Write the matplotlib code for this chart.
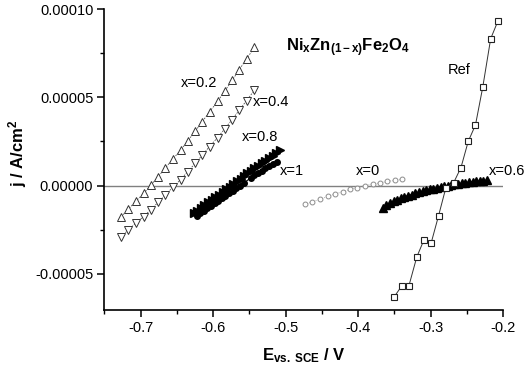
import matplotlib
matplotlib.use('Agg')
import matplotlib.pyplot as plt
import numpy as np
from matplotlib.ticker import MultipleLocator, FormatStrFormatter

plt.rcParams['font.family'] = ['Liberation Sans', 'DejaVu Sans']
plt.rcParams['mathtext.fontset'] = 'custom'
plt.rcParams['mathtext.rm'] = 'Liberation Sans'
plt.rcParams['mathtext.bf'] = 'Liberation Sans:bold'
plt.rcParams['mathtext.it'] = 'Liberation Sans:italic'

# current densities typed in units of 1e-5 A/cm2
E_02 = [-0.727, -0.717, -0.707, -0.696, -0.686, -0.676, -0.666, -0.656, -0.645, -0.635,
        -0.625, -0.615, -0.605, -0.594, -0.584, -0.574, -0.564, -0.554, -0.543]
j_02 = [-1.77, -1.34, -0.90, -0.45, 0.02, 0.50, 0.99, 1.49, 2.00, 2.53,
        3.07, 3.62, 4.18, 4.76, 5.35, 5.95, 6.56, 7.18, 7.82]
E_04 = E_02
j_04 = [-2.90, -2.51, -2.14, -1.76, -1.36, -0.95, -0.54, -0.11, 0.33, 0.79,
        1.25, 1.72, 2.21, 2.71, 3.21, 3.73, 4.27, 4.81, 5.40]
E_08 = [-0.627, -0.622, -0.617, -0.612, -0.607, -0.602, -0.597, -0.592, -0.587,
        -0.582, -0.577, -0.572, -0.567, -0.562, -0.558, -0.553, -0.548, -0.543,
        -0.538, -0.533, -0.528, -0.523, -0.518, -0.513, -0.508]
j_08 = [-1.58, -1.42, -1.26, -1.11, -0.96, -0.81, -0.66, -0.51, -0.36, -0.21,
        -0.06, 0.09, 0.24, 0.39, 0.54, 0.69, 0.84, 0.98, 1.12, 1.26,
        1.40, 1.55, 1.70, 1.85, 2.00]
E_1 = [-0.623, -0.618, -0.613, -0.608, -0.603, -0.598, -0.593, -0.588, -0.583,
       -0.578, -0.573, -0.568, -0.563, -0.558, -0.548, -0.543, -0.538, -0.533,
       -0.528, -0.523, -0.518, -0.512]
j_1 = [-1.70, -1.56, -1.42, -1.28, -1.14, -1.00, -0.86, -0.72, -0.58, -0.44,
       -0.30, -0.16, -0.02, 0.12, 0.45, 0.58, 0.71, 0.84, 0.97, 1.10, 1.23, 1.36]
E_0 = [-0.473, -0.463, -0.452, -0.442, -0.432, -0.421, -0.411, -0.401, -0.390,
       -0.380, -0.370, -0.360, -0.349, -0.339]
j_0 = [-1.06, -0.92, -0.77, -0.62, -0.48, -0.35, -0.21, -0.12, 0.0, 0.08,
       0.15, 0.23, 0.29, 0.35]
E_06 = [-0.366, -0.361, -0.356, -0.351, -0.346, -0.341, -0.336, -0.331, -0.326,
        -0.321, -0.316, -0.311, -0.306, -0.301, -0.296, -0.291, -0.286, -0.281,
        -0.276, -0.272, -0.267, -0.262, -0.257, -0.252, -0.247, -0.242, -0.237,
        -0.232, -0.227, -0.222]
j_06 = [-1.25, -1.12, -1.00, -0.89, -0.80, -0.72, -0.64, -0.57, -0.51, -0.45,
        -0.39, -0.33, -0.27, -0.22, -0.17, -0.12, -0.08, -0.04, 0.00, 0.04,
        0.07, 0.10, 0.13, 0.16, 0.19, 0.22, 0.24, 0.26, 0.28, 0.30]
E_ref = [-0.350, -0.340, -0.330, -0.319, -0.309, -0.299, -0.289, -0.279, -0.268,
         -0.258, -0.248, -0.238, -0.228, -0.217, -0.207]
j_ref = [-6.30, -5.70, -5.70, -4.05, -3.07, -3.23, -1.72, -0.15, 0.17, 1.02,
         2.50, 3.43, 5.56, 8.32, 9.32]

sc = 1e-5
fig = plt.figure(figsize=(5.32, 3.69), dpi=100)
ax = fig.add_axes([0.1964, 0.160, 0.7491, 0.8156])

ax.axhline(0, color='#808080', lw=1.0, zorder=1)

ax.plot(E_02, np.array(j_02)*sc, marker='^', ms=6, mfc='white', mec='#333333', mew=0.7,
        ls=(0, (2, 1.5)), color='#555555', lw=0.6, zorder=3)
ax.plot(E_04, np.array(j_04)*sc, marker='v', ms=6, mfc='white', mec='#333333', mew=0.7,
        ls=(0, (2, 1.5)), color='#555555', lw=0.6, zorder=3)
ax.plot(E_08, np.array(j_08)*sc, marker='>', ms=6, color='black', mec='black', lw=0.8, zorder=3)
ax.plot(E_1, np.array(j_1)*sc, marker='o', ms=4, color='black', mec='black', lw=0.8, zorder=3)
ax.plot(E_0, np.array(j_0)*sc, marker='o', ms=3.5, mfc='white', mec='#8c8c8c', mew=0.7,
        ls=':', color='#999999', lw=0.6, zorder=3)
ax.plot(E_06, np.array(j_06)*sc, marker='^', ms=5.5, color='black', mec='black', lw=0.8, zorder=3)
ax.plot(E_ref, np.array(j_ref)*sc, marker='s', ms=4.5, mfc='white', mec='#222222', mew=0.8,
        color='#333333', lw=0.7, zorder=4)

ax.set_xlim(-0.75, -0.2)
ax.set_ylim(-7.05e-5, 1.0e-4)
ax.xaxis.set_major_locator(MultipleLocator(0.1))
ax.xaxis.set_minor_locator(MultipleLocator(0.05))
ax.yaxis.set_major_locator(MultipleLocator(5e-5))
ax.yaxis.set_minor_locator(MultipleLocator(2.5e-5))
ax.xaxis.set_major_formatter(FormatStrFormatter('%.1f'))
ax.yaxis.set_major_formatter(FormatStrFormatter('%.5f'))
ax.spines['top'].set_visible(False)
ax.spines['right'].set_visible(False)
for s in ['left', 'bottom']:
    ax.spines[s].set_linewidth(1.2)
ax.tick_params(which='major', direction='out', length=5, width=1.1, labelsize=10.5, pad=3)
ax.tick_params(which='minor', direction='out', length=3, width=1.0)

ax.set_xlabel(r'$\mathbf{E_{vs.\ SCE}\ /\ V}$', fontsize=12)
ax.set_ylabel(r'$\mathbf{j\ /\ A/cm^2}$', fontsize=12)
ax.xaxis.set_label_coords(0.5, -0.12)
ax.yaxis.set_label_coords(-0.19, 0.52)

ax.text(-0.62, 5.82e-5, 'x=0.2', fontsize=10.5, ha='center', va='center')
ax.text(-0.52, 4.71e-5, 'x=0.4', fontsize=10.5, ha='center', va='center')
ax.text(-0.535, 2.75e-5, 'x=0.8', fontsize=10.5, ha='center', va='center')
ax.text(-0.492, 0.85e-5, 'x=1', fontsize=10.5, ha='center', va='center')
ax.text(-0.386, 0.85e-5, 'x=0', fontsize=10.5, ha='center', va='center')
ax.text(-0.194, 0.85e-5, 'x=0.6', fontsize=10.5, ha='center', va='center', clip_on=False)
ax.text(-0.261, 6.55e-5, 'Ref', fontsize=10.5, ha='center', va='center')
ax.text(-0.414, 7.8e-5, r'$\mathbf{Ni_xZn_{(1-x)}Fe_2O_4}$', fontsize=12, ha='center', va='center')

fig.savefig('out.png', dpi=100)
